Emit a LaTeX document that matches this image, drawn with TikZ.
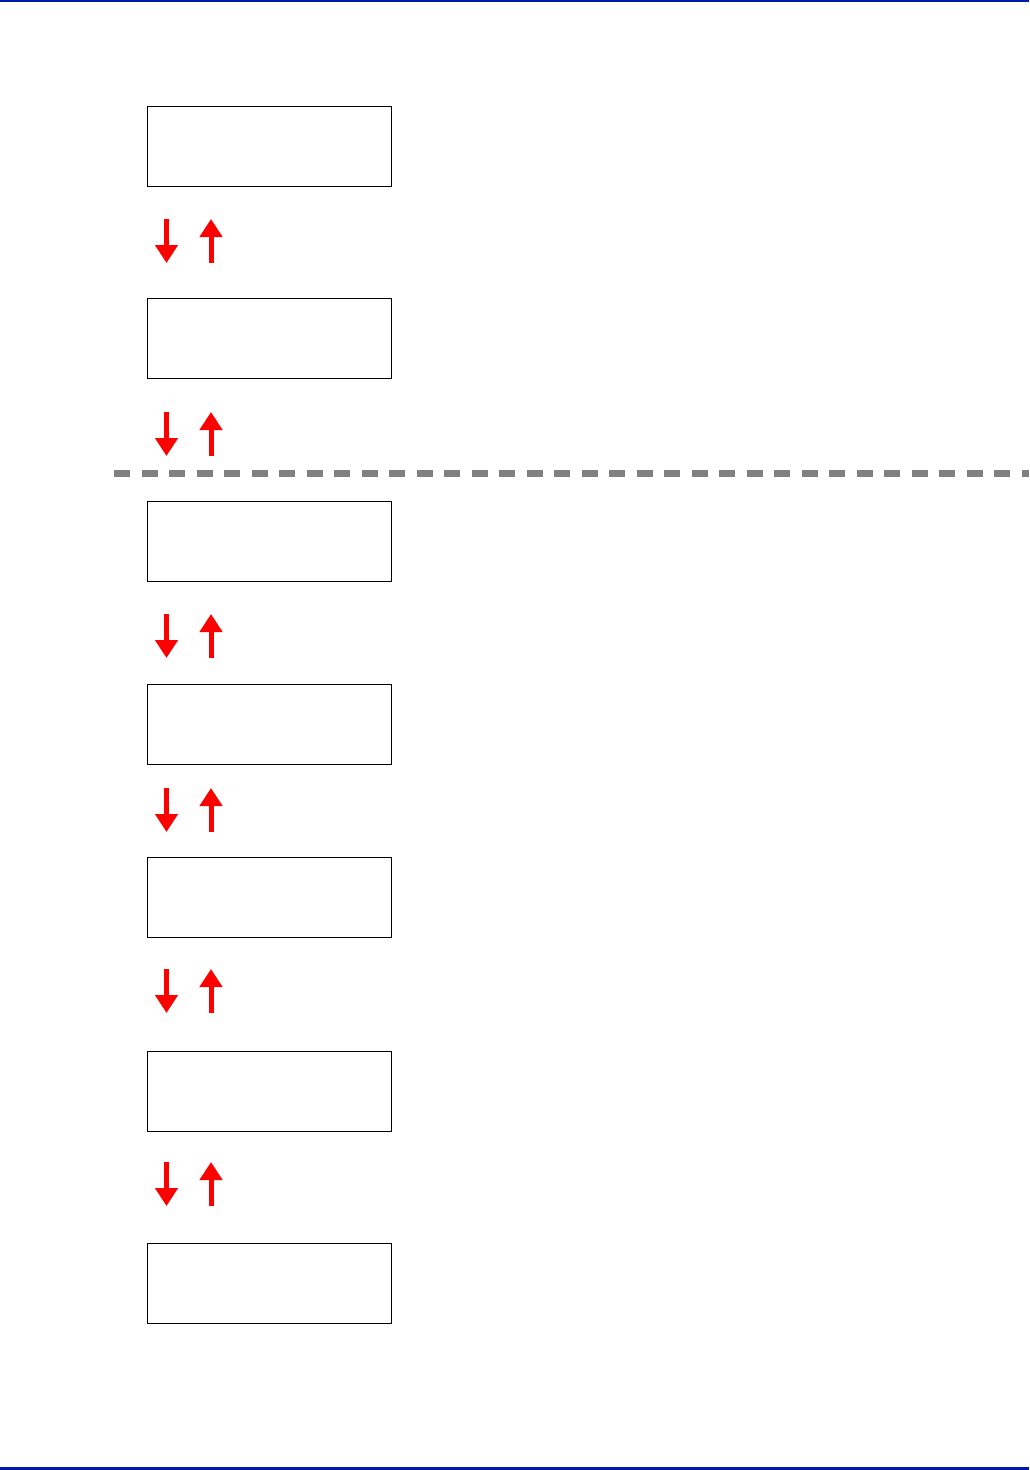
\documentclass[tikz,border=0pt]{standalone}
\usetikzlibrary{arrows.meta}
\definecolor{rulebl}{RGB}{0,25,170}
\definecolor{dashgray}{RGB}{128,128,128}
\definecolor{arrred}{RGB}{255,0,0}
\begin{document}
\begin{tikzpicture}[x=1pt,y=-1pt,
  panel/.style={draw=black,line width=1.3pt,minimum width=244pt,minimum height=80pt,inner sep=0pt,anchor=north west},
  redarrow/.style={draw=arrred,fill=arrred,line width=5pt,-{Triangle[length=18pt,width=22pt]}},
  sep/.style={draw=dashgray,line width=7pt,dash pattern=on 16pt off 11.5pt}]
\useasboundingbox (0,0) rectangle (1029,1470);
\fill[white] (0,0) rectangle (1029,1470);
% header/footer rules
\coordinate (tl) at (0,1);
\coordinate (tr) at (1029,1);
\coordinate (bl) at (0,1468.5);
\coordinate (br) at (1029,1468.5);
\draw[rulebl,line width=2pt] (tl) -- (tr);
\draw[rulebl,line width=3pt] (bl) -- (br);
% panels
\node[panel] (b1) at (147,106) {};
\node[panel] (b2) at (147,298) {};
\node[panel] (b3) at (147,501) {};
\node[panel] (b4) at (147,684) {};
\node[panel] (b5) at (147,857) {};
\node[panel] (b6) at (147,1051) {};
\node[panel] (b7) at (147,1243) {};
% separator
\coordinate (sl) at (114,473);
\coordinate (sr) at (1029,473);
\draw[sep] (sl) -- (sr);
% arrow pairs
\foreach \i/\y in {1/219,2/412,3/614,4/788,5/969,6/1162}{
  \coordinate (d\i s) at (166.5,\y);
  \coordinate (d\i e) at (166.5,\y+44);
  \coordinate (u\i s) at (211,\y+44);
  \coordinate (u\i e) at (211,\y);
  \draw[redarrow] (d\i s) -- (d\i e);
  \draw[redarrow] (u\i s) -- (u\i e);
}
\end{tikzpicture}
\end{document}
